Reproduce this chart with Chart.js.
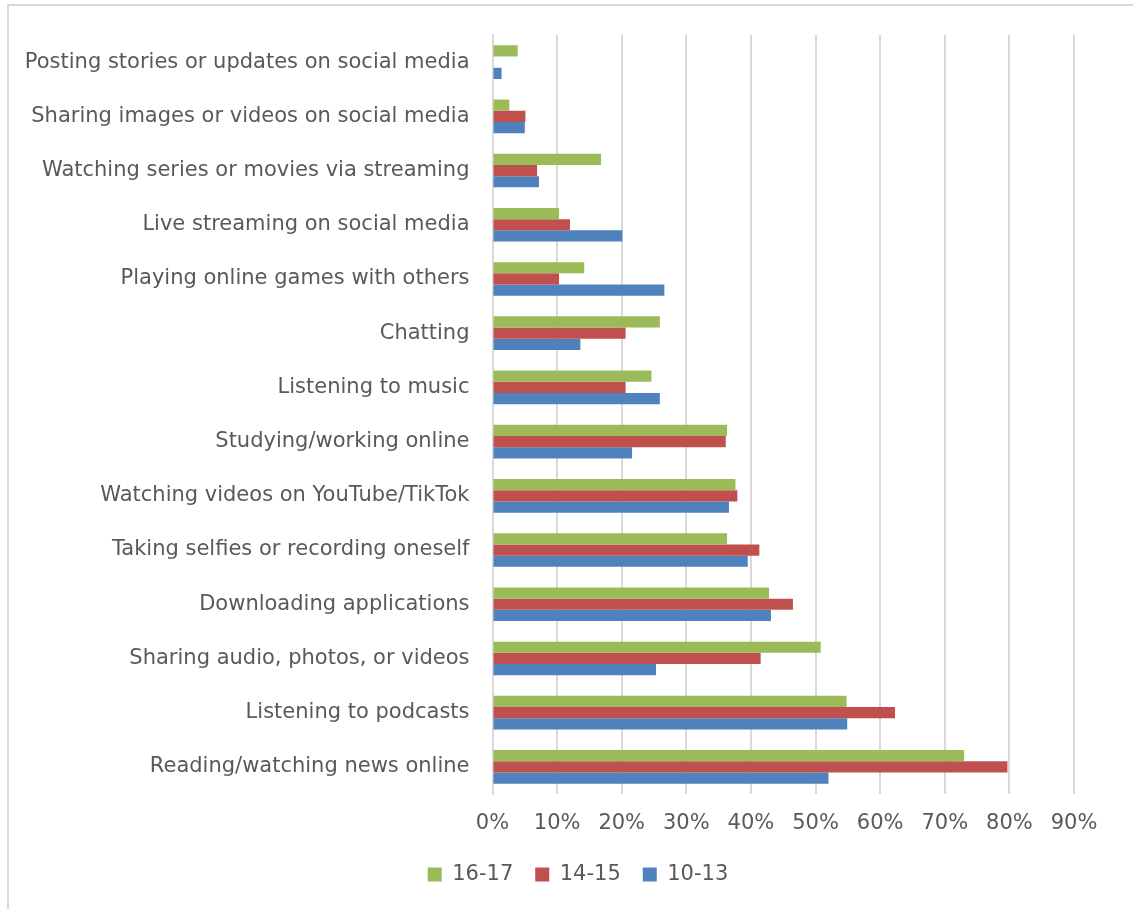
<!DOCTYPE html>
<html>
<head>
<meta charset="utf-8">
<script src="https://cdn.jsdelivr.net/npm/chart.js@4.4.1/dist/chart.umd.min.js"></script>
<style>
  html, body { margin: 0; padding: 0; background: #fff; }
  #wrap { width: 1133px; height: 909px; position: relative; }
</style>
</head>
<body>
<div id="wrap"><canvas id="chart"></canvas></div>
<script>
const categories = [
  'Posting stories or updates on social media',
  'Sharing images or videos on social media',
  'Watching series or movies via streaming',
  'Live streaming on social media',
  'Playing online games with others',
  'Chatting',
  'Listening to music',
  'Studying/working online',
  'Watching videos on YouTube/TikTok',
  'Taking selfies or recording oneself',
  'Downloading applications',
  'Sharing audio, photos, or videos',
  'Listening to podcasts',
  'Reading/watching news online'
];
const age1617 = [3.9, 2.6, 16.8, 10.3, 14.2, 25.9, 24.6, 36.3, 37.6, 36.3, 42.8, 50.8, 54.8, 73.0];
const age1415 = [0, 5.1, 6.9, 12.0, 10.3, 20.6, 20.6, 36.1, 37.9, 41.3, 46.5, 41.5, 62.3, 79.7];
const age1013 = [1.4, 5.0, 7.2, 20.1, 26.6, 13.6, 25.9, 21.6, 36.6, 39.5, 43.1, 25.3, 54.9, 52.0];
const seriesNames = ['16-17', '14-15', '10-13'];

const fontFamily = "'DejaVu Sans', sans-serif";

// light frame like the exported chart area
const framePlugin = {
  id: 'frame',
  beforeDraw(chart) {
    const ctx = chart.ctx;
    ctx.save();
    ctx.strokeStyle = '#d9d9d9';
    ctx.lineWidth = 2;
    ctx.beginPath();
    ctx.moveTo(8, chart.height);
    ctx.lineTo(8, 5);
    ctx.lineTo(chart.width, 5);
    ctx.stroke();
    ctx.restore();
  }
};

// nudge the legend a bit right, it is centred on the whole picture there
const legendShift = {
  id: 'legendShift',
  afterLayout(chart) {
    if (chart.legend) {
      chart.legend.left += 36;
      chart.legend.right += 36;
    }
  }
};

const ctx = document.getElementById('chart').getContext('2d');
new Chart(ctx, {
  type: 'bar',
  data: {
    labels: categories,
    datasets: [
      { label: seriesNames[0], data: age1617, backgroundColor: '#9BBB59' },
      { label: seriesNames[1], data: age1415, backgroundColor: '#C0504D' },
      { label: seriesNames[2], data: age1013, backgroundColor: '#4F81BD' }
    ]
  },
  options: {
    indexAxis: 'y',
    responsive: true,
    maintainAspectRatio: false,
    animation: false,
    datasets: {
      bar: {
        categoryPercentage: 0.62,
        barPercentage: 1.0
      }
    },
    layout: {
      padding: { left: 10, right: 59, top: 35, bottom: 14 }
    },
    plugins: {
      legend: {
        position: 'bottom',
        labels: {
          font: { family: fontFamily, size: 21 },
          color: '#595959',
          boxWidth: 14,
          boxHeight: 14,
          padding: 22
        }
      },
      tooltip: { enabled: false }
    },
    scales: {
      x: {
        min: 0,
        max: 90,
        ticks: {
          stepSize: 10,
          color: '#595959',
          font: { family: fontFamily, size: 21 },
          padding: 17,
          maxRotation: 0,
          callback: v => v + '%'
        },
        grid: { color: '#d9d9d9', lineWidth: 2, drawTicks: false },
        border: { display: false },
        afterFit(scale) { scale.height = 48; }
      },
      y: {
        ticks: {
          color: '#595959',
          font: { family: fontFamily, size: 21 },
          padding: 15,
          autoSkip: false
        },
        grid: { display: false },
        border: { display: true, color: '#d9d9d9', width: 2 },
        afterFit(scale) { scale.width = 482.5; }
      }
    }
  },
  plugins: [framePlugin, legendShift]
});
</script>
</body>
</html>
